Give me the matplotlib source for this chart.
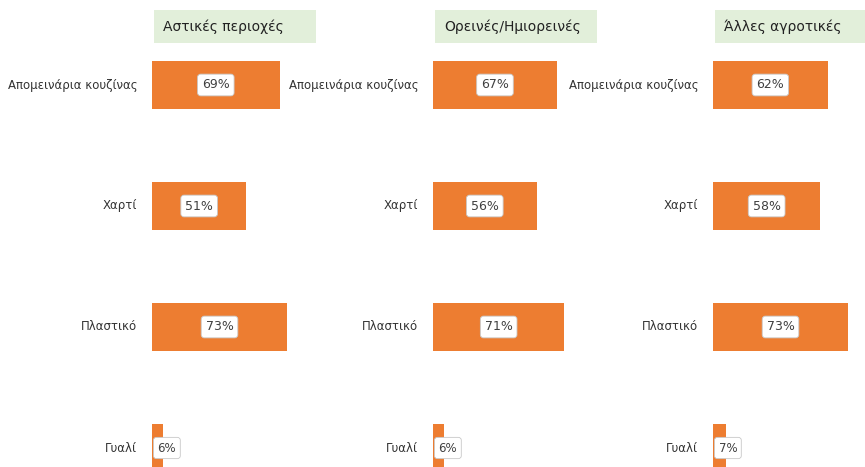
import numpy as np
import matplotlib.pyplot as plt
from matplotlib.patches import Rectangle

categories = ['Απομεινάρια κουζίνας', 'Χαρτί', 'Πλαστικό', 'Γυαλί']
titles = ['Αστικές περιοχές', 'Ορεινές/Ημιορεινές', 'Άλλες αγροτικές']
urban = [69, 51, 73, 6]
mountain = [67, 56, 71, 6]
rural = [62, 58, 73, 7]
series = [urban, mountain, rural]

W, H = 865, 467
orange = '#ed7d31'
green = '#e2efda'
txt = '#404040'

fig = plt.figure(figsize=(W / 100, H / 100), dpi=100)
lefts = [152, 433, 713]   # pixel x of each panel's axis
top_px, bot_px = 24.5, 508.5

for k in range(3):
    ax = fig.add_axes([lefts[k] / W, 1 - bot_px / H, 185 / W, (bot_px - top_px) / H])
    vals = np.array(series[k]) / 100
    y = np.arange(len(categories))
    ax.barh(y, vals, height=0.4, color=orange)
    ax.set_xlim(0, 1)
    ax.set_ylim(3.5, -0.5)
    ax.axis('off')
    for i, v in enumerate(vals):
        ax.text(-0.08, i, categories[i], ha='right', va='center', fontsize=8.5, color='#333333')
        box = dict(boxstyle='round,pad=0.35,rounding_size=0.25', fc='white', ec='#c8c8c8', lw=0.6)
        if v > 0.2:
            ax.text(v / 2, i, '%d%%' % series[k][i], ha='center', va='center',
                    fontsize=9, color=txt, bbox=box)
        else:
            ax.text(0.03, i, '%d%%' % series[k][i], ha='left', va='center',
                    fontsize=8.5, color=txt, bbox=box)
    # title box
    x0 = (lefts[k] + 2) / W
    fig.patches.append(Rectangle((x0, 1 - 43 / H), 162 / W, 33 / H,
                                 transform=fig.transFigure, fc=green, ec='none', zorder=0))
    fig.text(x0 + 9 / W, 1 - 27 / H, titles[k], ha='left', va='center', fontsize=10, color='#222222')

fig.savefig('out.png', dpi=100)
